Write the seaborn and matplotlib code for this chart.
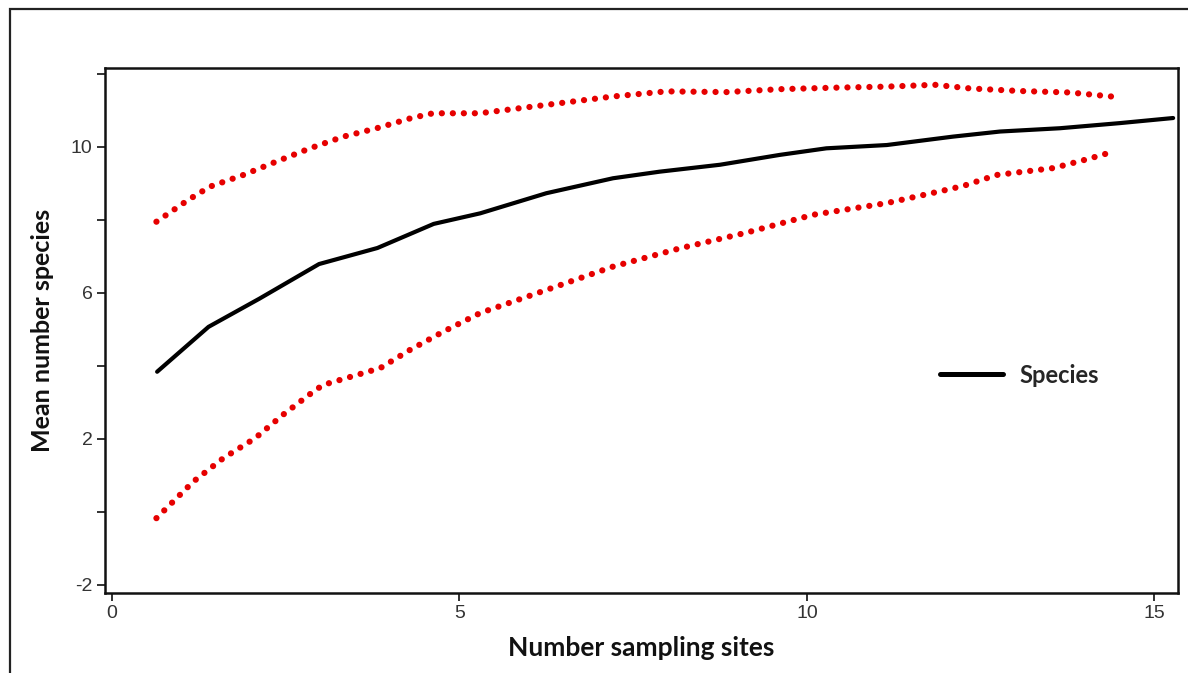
import numpy as np
import pandas as pd
import seaborn as sns
import matplotlib.pyplot as plt
from matplotlib.patches import Rectangle

# values
mean_x = [0.65, 1.39, 2.12, 2.98, 3.82, 4.63, 5.3, 6.25, 7.21, 7.88, 8.75, 9.61,
          10.28, 11.15, 12.1, 12.78, 13.64, 14.5, 15.27]
mean_y = [3.84, 5.07, 5.84, 6.79, 7.23, 7.89, 8.18, 8.73, 9.14, 9.32, 9.51, 9.78,
          9.96, 10.05, 10.28, 10.42, 10.51, 10.65, 10.79]

upper_x = [0.64, 1.1, 1.41, 1.89, 2.37, 2.85, 3.33, 3.81, 4.31, 4.62, 5.29, 6.25,
           7.21, 7.98, 8.84, 9.61, 10.38, 11.15, 11.84, 12.35, 13.06, 13.78, 14.38]
upper_y = [7.95, 8.55, 8.91, 9.23, 9.6, 9.96, 10.28, 10.51, 10.79, 10.92, 10.92, 11.15,
           11.38, 11.52, 11.5, 11.58, 11.62, 11.65, 11.7, 11.6, 11.53, 11.49, 11.38]

lower_x = [0.64, 1.17, 1.6, 2.06, 2.46, 2.9, 3.04, 3.52, 3.86, 4.29, 4.77, 5.3, 6.25,
           7.21, 8.17, 9.13, 10.09, 11.15, 11.91, 12.25, 12.73, 13.55, 14.03, 14.41]
lower_y = [-0.17, 0.83, 1.47, 2.02, 2.66, 3.3, 3.48, 3.75, 3.94, 4.44, 4.94, 5.45, 6.08,
           6.72, 7.22, 7.65, 8.14, 8.46, 8.78, 8.93, 9.23, 9.42, 9.66, 9.87]

y_ticks = [-2, 0, 2, 4, 6, 8, 10, 12]
y_tick_labels = ['-2', '', '2', '', '6', '', '10', '']
x_ticks = [0, 5, 10, 15]

sns.set_style('white')
plt.rcParams['font.family'] = ['Liberation Sans', 'DejaVu Sans']

fig = plt.figure(figsize=(11.88, 6.73), dpi=100)
ax = fig.add_axes([105 / 1188, 1 - 593 / 673, (1178 - 105) / 1188, (593 - 68) / 673])

# outer frame of the picture (right and bottom run off the image)
fig.patches.append(Rectangle((10 / 1188, -0.05), 1.2, 1 - 9 / 673 + 0.05,
                             transform=fig.transFigure, fill=False,
                             edgecolor='#222222', linewidth=1.6))

red_style = dict(color='#e60000', linewidth=4.5, linestyle=(0, (0.01, 1.75)),
                 dash_capstyle='round', sort=False, label='_nolegend_')
sns.lineplot(x=upper_x, y=upper_y, ax=ax, **red_style)
sns.lineplot(x=lower_x, y=lower_y, ax=ax, **red_style)
sns.lineplot(x=mean_x, y=mean_y, ax=ax, color='black', linewidth=3.0,
             sort=False, label='Species')

ax.set_xlim(-0.1, 15.34)
ax.set_ylim(-2.22, 12.16)
ax.set_yticks(y_ticks)
ax.set_yticklabels(y_tick_labels)
ax.set_xticks(x_ticks)
ax.tick_params(axis='both', which='both', direction='out', length=6, width=1.3,
               color='#222222', labelsize=14, labelcolor='#333333', pad=3,
               left=True, bottom=True)
for s in ax.spines.values():
    s.set_visible(True)
    s.set_color('#111111')
    s.set_linewidth(1.8)

ax.set_xlabel('Number sampling sites', labelpad=10, family=['Lato', 'DejaVu Sans'],
              weight='bold', size=19, color='#111111')
ax.set_ylabel('Mean number species', labelpad=12, family=['Lato', 'DejaVu Sans'],
              weight='bold', size=18, color='#111111')

leg = ax.legend(loc='center left', bbox_to_anchor=(0.758, 0.415), frameon=False,
                handlelength=2.7, handletextpad=0.7,
                prop=dict(family=['Lato', 'DejaVu Sans'], weight='bold', size=17))
for h in leg.get_lines():
    h.set_linewidth(3.6)

fig.savefig('out.png', dpi=100)
